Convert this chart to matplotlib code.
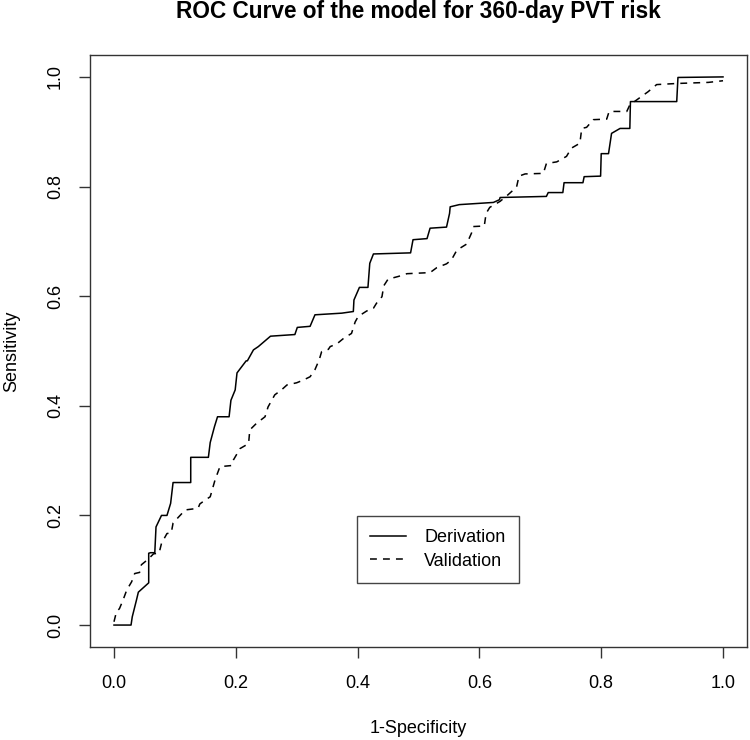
import matplotlib
matplotlib.use("Agg")
import matplotlib.pyplot as plt

# traced ROC vertices (1-specificity, sensitivity)
deriv_fpr = [0.0, 0.028, 0.030, 0.037, 0.040, 0.057, 0.057, 0.060, 0.067, 0.069,
             0.078, 0.087, 0.093, 0.097, 0.126, 0.126, 0.155, 0.158, 0.165, 0.170,
             0.178, 0.189, 0.192, 0.199, 0.202, 0.217, 0.219, 0.229, 0.237, 0.257,
             0.297, 0.301, 0.322, 0.330, 0.374, 0.393, 0.394, 0.403, 0.417, 0.420,
             0.426, 0.487, 0.491, 0.514, 0.519, 0.546, 0.551, 0.552, 0.567, 0.623,
             0.633, 0.634, 0.710, 0.713, 0.737, 0.739, 0.770, 0.772, 0.799, 0.800,
             0.812, 0.817, 0.831, 0.847, 0.848, 0.924, 0.926, 1.0]
deriv_tpr = [0.0, 0.0, 0.015, 0.046, 0.060, 0.077, 0.131, 0.132, 0.132, 0.179,
             0.200, 0.200, 0.222, 0.260, 0.260, 0.306, 0.306, 0.333, 0.362, 0.380,
             0.380, 0.380, 0.410, 0.429, 0.460, 0.482, 0.482, 0.502, 0.508, 0.527,
             0.530, 0.543, 0.545, 0.566, 0.569, 0.572, 0.593, 0.616, 0.616, 0.660,
             0.677, 0.679, 0.703, 0.705, 0.724, 0.726, 0.751, 0.763, 0.767, 0.771,
             0.776, 0.780, 0.782, 0.789, 0.789, 0.807, 0.807, 0.818, 0.819, 0.860,
             0.860, 0.897, 0.906, 0.906, 0.955, 0.955, 0.999, 1.0]

valid_fpr = [0.0, 0.004, 0.009, 0.015, 0.021, 0.029, 0.034, 0.042, 0.045, 0.056,
             0.065, 0.074, 0.078, 0.087, 0.094, 0.097, 0.106, 0.117, 0.138, 0.141,
             0.151, 0.158, 0.166, 0.174, 0.193, 0.196, 0.207, 0.221, 0.223, 0.234,
             0.248, 0.253, 0.264, 0.275, 0.284, 0.300, 0.311, 0.322, 0.330, 0.337,
             0.341, 0.352, 0.355, 0.366, 0.377, 0.390, 0.396, 0.401, 0.415, 0.426,
             0.431, 0.440, 0.443, 0.450, 0.467, 0.481, 0.519, 0.530, 0.546, 0.554,
             0.563, 0.579, 0.587, 0.590, 0.608, 0.611, 0.617, 0.634, 0.647, 0.661,
             0.665, 0.675, 0.705, 0.710, 0.727, 0.743, 0.751, 0.765, 0.768, 0.776,
             0.787, 0.809, 0.813, 0.842, 0.847, 0.877, 0.891, 0.924, 0.976, 1.0]
valid_tpr = [0.006, 0.024, 0.030, 0.046, 0.064, 0.079, 0.094, 0.096, 0.110, 0.120,
             0.130, 0.131, 0.149, 0.167, 0.168, 0.186, 0.197, 0.210, 0.213, 0.221,
             0.229, 0.234, 0.265, 0.289, 0.291, 0.301, 0.322, 0.331, 0.356, 0.368,
             0.380, 0.398, 0.420, 0.429, 0.438, 0.442, 0.447, 0.453, 0.466, 0.484,
             0.499, 0.503, 0.508, 0.513, 0.523, 0.532, 0.553, 0.563, 0.573, 0.578,
             0.587, 0.599, 0.619, 0.631, 0.636, 0.641, 0.643, 0.652, 0.659, 0.666,
             0.684, 0.695, 0.715, 0.727, 0.728, 0.751, 0.762, 0.773, 0.785, 0.799,
             0.819, 0.823, 0.824, 0.842, 0.845, 0.855, 0.870, 0.879, 0.906, 0.908,
             0.922, 0.923, 0.937, 0.937, 0.949, 0.973, 0.986, 0.988, 0.990, 0.993]

ticks = [0.0, 0.2, 0.4, 0.6, 0.8, 1.0]
tick_labels = ["0.0", "0.2", "0.4", "0.6", "0.8", "1.0"]

plt.rcParams.update({
    "font.family": ["Liberation Sans", "DejaVu Sans"],
    "font.size": 13,
})

fig = plt.figure(figsize=(7.5, 7.4), dpi=100)
ax = fig.add_axes([0.1195, 0.1257, 0.877, 0.8])

ax.plot(deriv_fpr, deriv_tpr, color="black", linewidth=1.1, label="Derivation")
ax.plot(valid_fpr, valid_tpr, color="black", linewidth=1.1,
        linestyle=(0, (4.5, 4)), label="Validation")

ax.set_xlim(-0.04, 1.04)
ax.set_ylim(-0.04, 1.04)
ax.set_xticks(ticks)
ax.set_xticklabels(tick_labels)
ax.set_yticks(ticks)
ax.set_yticklabels(tick_labels, rotation=90, va="center")
ax.tick_params(direction="out", length=8, width=1, colors="#333333",
               labelcolor="black", labelsize=13)
ax.tick_params(axis="x", pad=12)
ax.tick_params(axis="y", pad=10.5)
for s in ax.spines.values():
    s.set_color("#333333")
    s.set_linewidth(1)

ax.set_xlabel("1-Specificity", fontsize=13, labelpad=20)
ax.set_ylabel("Sensitivity", fontsize=13, labelpad=19)
fig.text(0.5575, 0.985, "ROC Curve of the model for 360-day PVT risk",
         ha="center", va="center", fontsize=16.3, fontweight="bold")

leg = ax.legend(loc="lower left", bbox_to_anchor=(0.406, 0.108),
                borderaxespad=0, fancybox=False, framealpha=1,
                edgecolor="#444444", fontsize=13, handlelength=2.0,
                handletextpad=1.0, borderpad=0.75, labelspacing=0.35)
leg.get_frame().set_linewidth(1)

fig.savefig("out.png", dpi=100)
